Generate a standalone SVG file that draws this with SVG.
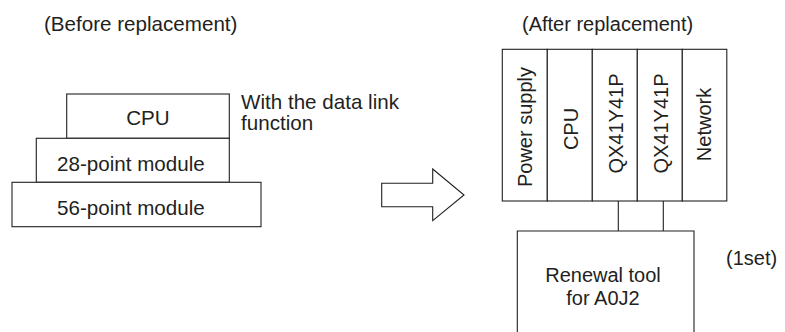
<svg xmlns="http://www.w3.org/2000/svg" width="785" height="332" viewBox="0 0 785 332">
<style>
.b{fill:#fff;stroke:#231F20;stroke-width:1.1}
.l{fill:none;stroke:#231F20;stroke-width:1.1}
text{font-family:"Liberation Sans",Arial,sans-serif;font-size:20px;fill:#231F20}
.k{font-size:20.6px}
.m{text-anchor:middle}
</style>
<rect width="785" height="332" fill="#fff"/>
<text class="k" x="44" y="31">(Before replacement)</text>
<text x="522" y="31">(After replacement)</text>
<g id="cpu-old"><rect class="b" x="66.7" y="94" width="162.6" height="44.3"/><text class="m k" x="148" y="125">CPU</text></g>
<g id="mod28"><rect class="b" x="36.3" y="138.3" width="193" height="44"/><text class="k" x="57" y="171">28-point module</text></g>
<g id="mod56"><rect class="b" x="12" y="182.3" width="249" height="44.4"/><text class="k" x="57" y="215">56-point module</text></g>
<text class="k" x="241" y="109">With the data link</text>
<text class="k" x="241" y="130">function</text>
<g id="arrow"><polygon class="b" points="381.7,183.3 432.7,183.3 432.7,169 464,195 432.7,220.7 432.7,206.7 381.7,206.7"/></g>
<g id="rack">
<g id="power"><rect class="b" x="502.3" y="49.3" width="45" height="151.7"/><text class="m" transform="translate(532,127) rotate(-90)">Power supply</text></g>
<g id="cpu-new"><rect class="b" x="547.3" y="49.3" width="45" height="151.7"/><text class="m" transform="translate(578,129) rotate(-90)">CPU</text></g>
<g id="qx1"><rect class="b" x="592.3" y="49.3" width="45" height="151.7"/><text class="m" transform="translate(622.5,123.5) rotate(-90)">QX41Y41P</text></g>
<g id="qx2"><rect class="b" x="637.3" y="49.3" width="45" height="151.7"/><text class="m" transform="translate(667.5,123.5) rotate(-90)">QX41Y41P</text></g>
<g id="network"><rect class="b" x="682.3" y="49.3" width="44.5" height="151.7"/><text class="m" transform="translate(711,124.5) rotate(-90)">Network</text></g>
</g>
<g id="connectors"><line class="l" x1="618.3" y1="201" x2="618.3" y2="231"/><line class="l" x1="663.3" y1="201" x2="663.3" y2="231"/></g>
<g id="renewal"><path class="b" d="M517.3,340 V231 H694 V340"/><text class="m" x="603" y="282">Renewal tool</text><text class="m" x="603" y="305">for A0J2</text></g>
<text x="726" y="265">(1set)</text>
</svg>
